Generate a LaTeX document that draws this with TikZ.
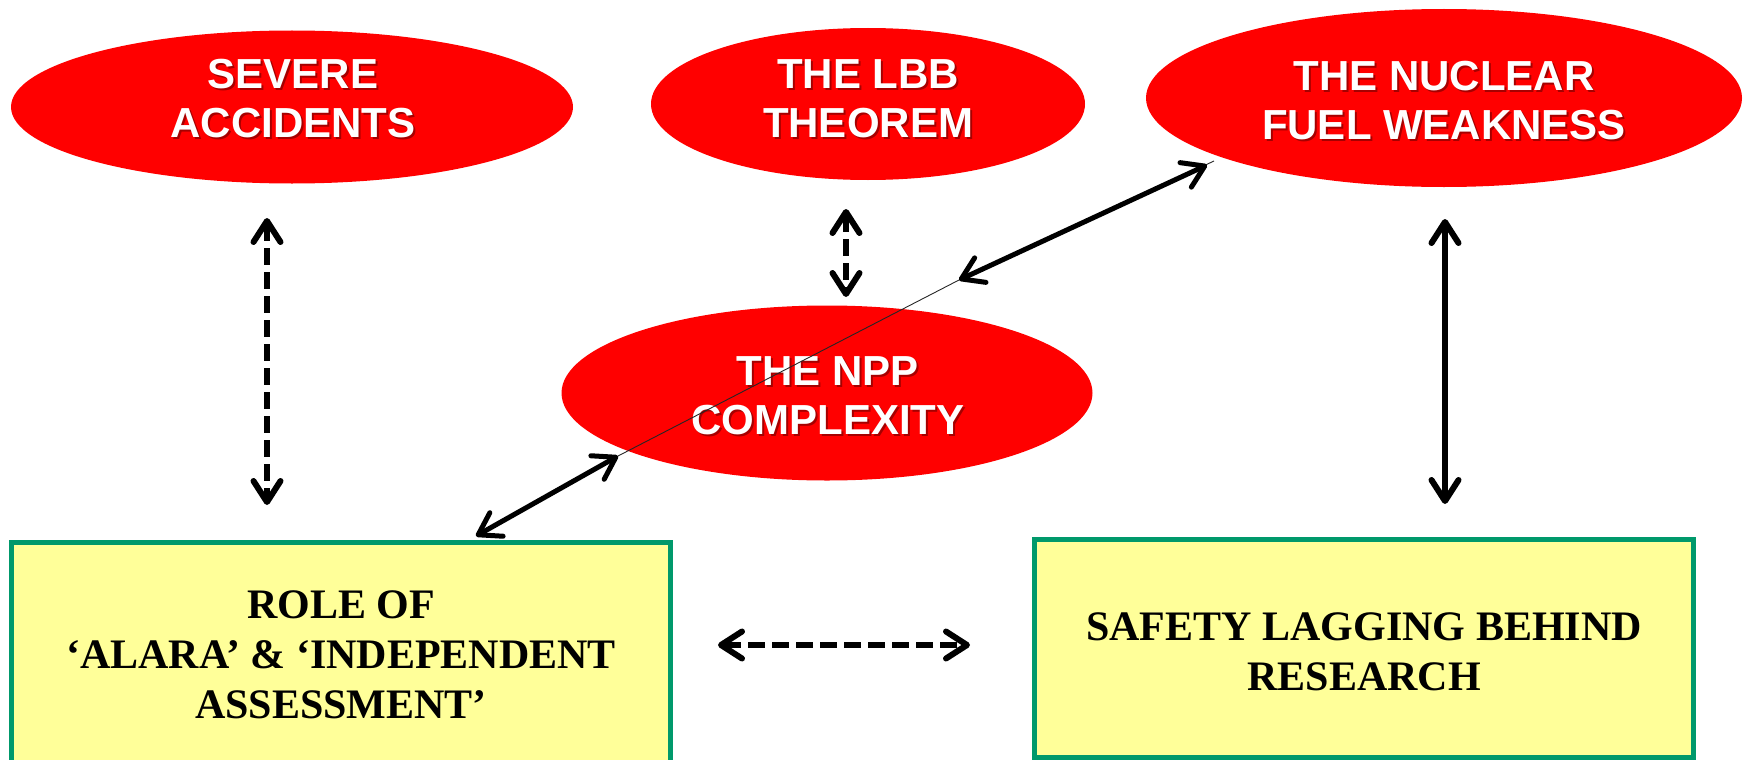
\documentclass[tikz,border=0pt]{standalone}
\usepackage{fontspec}
\setmainfont{Liberation Serif}
\newfontfamily\headfont{Liberation Sans}
\usetikzlibrary{arrows.meta,shapes.geometric}

\definecolor{ovalred}{HTML}{FF0000}
\definecolor{boxfill}{HTML}{FFFF99}
\definecolor{boxline}{HTML}{00996B}

\tikzset{
  oval/.style={ellipse, fill=ovalred, inner sep=0pt},
  ovaltext/.style={text=white, inner sep=0pt, align=center,
    font=\headfont\bfseries\fontsize{42}{49}\selectfont},
  ovalshadow/.style={ovaltext, text=black, text opacity=0.35},
  panel/.style={rectangle, draw=boxline, line width=5pt, fill=boxfill, inner sep=0pt},
  paneltext/.style={inner sep=0pt, align=center,
    font=\bfseries\fontsize{42}{50}\selectfont},
  barb/.tip={Straight Barb[length=21pt, width=27pt, line cap=round, line join=round]},
  link/.style={line width=6pt, barb-barb},
  slimlink/.style={line width=5pt, barb-barb},
  dashlink/.style={link, dash pattern=on 17pt off 7pt},
  hairline/.style={line width=0.9pt, black!85},
}

\begin{document}
\begin{tikzpicture}[x=1pt, y=-1pt]
  \useasboundingbox (0,0) rectangle (1745,760);

  % red ovals
  \node[oval, minimum width=562pt, minimum height=153pt] (sev) at (292,107) {};
  \node[oval, minimum width=434pt, minimum height=152pt] (lbb) at (868,104) {};
  \node[oval, minimum width=596pt, minimum height=178pt] (nuc) at (1444,98) {};
  \node[oval, minimum width=531pt, minimum height=175pt] (npp) at (827,393) {};

  % oval labels with a soft drop shadow
  \node[ovalshadow] (sevS) at (295,101) {SEVERE\\ACCIDENTS};
  \node[ovaltext]   (sevT) at (293,99)  {SEVERE\\ACCIDENTS};
  \node[ovalshadow] (lbbS) at (870,101) {THE LBB\\THEOREM};
  \node[ovaltext]   (lbbT) at (868,99)  {THE LBB\\THEOREM};
  \node[ovalshadow] (nucS) at (1446,103) {THE NUCLEAR\\FUEL WEAKNESS};
  \node[ovaltext]   (nucT) at (1444,101) {THE NUCLEAR\\FUEL WEAKNESS};
  \node[ovalshadow] (nppS) at (830,398) {THE NPP\\COMPLEXITY};
  \node[ovaltext]   (nppT) at (828,396) {THE NPP\\COMPLEXITY};

  % yellow panels
  \node[panel, minimum width=659pt, minimum height=226pt] (alara) at (341,655) {};
  \node[paneltext] (alaraT) at (341,655) {ROLE OF\\‘ALARA’ \& ‘INDEPENDENT\\ASSESSMENT’};
  \node[panel, minimum width=659pt, minimum height=218pt] (lag) at (1364,648) {};
  \node[paneltext] (lagT) at (1364,652) {SAFETY LAGGING BEHIND\\RESEARCH};

  % connector end points
  \coordinate (sevA) at (267,218);  \coordinate (sevB) at (267,505);
  \coordinate (lbbA) at (846,209);  \coordinate (lbbB) at (846,297);
  \coordinate (nucA) at (1445,219); \coordinate (nucB) at (1445,504);
  \coordinate (midL) at (718,645);  \coordinate (midR) at (970,645);
  \coordinate (dgA) at (476,536);   \coordinate (dgB) at (618,456);
  \coordinate (dgC) at (959,280);   \coordinate (dgD) at (1207,165);
  \coordinate (dgE) at (1214,161);

  % thin guide line running through the complexity oval
  \draw[hairline] (dgB) -- (dgC) -- (dgE);

  % connectors
  \draw[dashlink] (sevA) -- (sevB);
  \draw[dashlink] (lbbA) -- (lbbB);
  \draw[link] (nucA) -- (nucB);
  \draw[dashlink] (midL) -- (midR);
  \draw[slimlink] (dgA) -- (dgB);
  \draw[slimlink] (dgC) -- (dgD);
\end{tikzpicture}
\end{document}
